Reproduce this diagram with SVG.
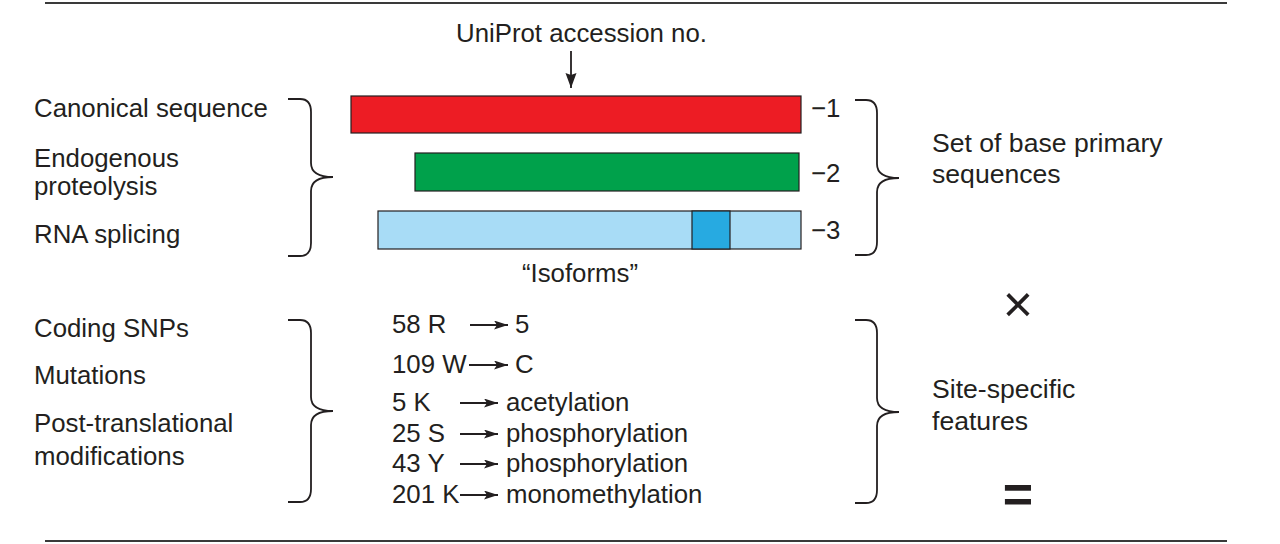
<svg xmlns="http://www.w3.org/2000/svg" width="1280" height="544" viewBox="0 0 1280 544">
<style>
  text { font-family: "Liberation Sans", Arial, Helvetica, sans-serif; font-size: 25.8px; fill: #231f20; }
  .big { font-size: 26.6px; }
  .rule { stroke: #3a3a3a; stroke-width: 2.2; fill: none; }
  .brace { stroke: #231f20; stroke-width: 1.8; fill: none; }
  .bar { stroke: #231f20; stroke-width: 1.2; }
  .arrow { stroke: #231f20; stroke-width: 1.8; fill: none; }
</style>
<defs>
  <marker id="ah" markerUnits="userSpaceOnUse" markerWidth="15" markerHeight="10" refX="14" refY="4.5" orient="auto">
    <path d="M0,0 L14,4.5 L0,9 L3,4.5 Z" fill="#231f20"/>
  </marker>
  <marker id="ahd" markerUnits="userSpaceOnUse" markerWidth="16" markerHeight="12" refX="15" refY="6" orient="auto">
    <path d="M0,0.5 L15,6 L0,11.5 L2,6 Z" fill="#231f20"/>
  </marker>
</defs>
<rect width="1280" height="544" fill="#ffffff"/>

<g id="rules">
  <line class="rule" x1="45" y1="3" x2="1227" y2="3"/>
  <line class="rule" x1="45" y1="541" x2="1227" y2="541"/>
</g>

<g id="uniprot-label">
  <text x="456" y="42">UniProt accession no.</text>
</g>

<g id="isoform-1">
  <rect class="bar" x="351" y="96" width="450" height="37" fill="#ed1c24"/>
  <text x="811" y="117">−1</text>
</g>
<g id="isoform-2">
  <rect class="bar" x="415" y="153" width="384" height="38" fill="#00a14b"/>
  <text x="811" y="182">−2</text>
</g>
<g id="isoform-3">
  <rect class="bar" x="378" y="211" width="423" height="38" fill="#a8dcf6"/>
  <rect class="bar" x="692" y="211" width="38" height="38" fill="#27aae1"/>
  <text x="811" y="239">−3</text>
</g>
<g id="isoforms-label">
  <text x="580" y="282" text-anchor="middle">“Isoforms”</text>
</g>

<g id="sources-top">
  <text x="34" y="117">Canonical sequence</text>
  <text x="34" y="167">Endogenous</text>
  <text x="34" y="195">proteolysis</text>
  <text x="34" y="243">RNA splicing</text>
  <path class="brace" d="M288,99 H300 Q311,99 311,112 V163 Q311,177 333,177 Q311,177 311,191 V243 Q311,256 300,256 H288"/>
</g>

<g id="base-set">
  <path class="brace" d="M855,100 H866 Q877,100 877,113 V164 Q877,178 899,178 Q877,178 877,192 V242 Q877,255 866,255 H855"/>
  <text class="big" x="932" y="152">Set of base primary</text>
  <text class="big" x="932" y="183">sequences</text>
</g>

<g id="times">
  <text x="1018" y="322" text-anchor="middle" style="font-size:52px">×</text>
</g>

<g id="sources-bottom">
  <text x="34" y="337">Coding SNPs</text>
  <text x="34" y="384">Mutations</text>
  <text x="34" y="432">Post-translational</text>
  <text x="34" y="465">modifications</text>
  <path class="brace" d="M288,320 H300 Q311,320 311,333 V397 Q311,411 333,411 Q311,411 311,425 V489 Q311,502 300,502 H288"/>
</g>

<g id="features">
  <text x="392" y="333">58 R</text>
  <text x="515" y="333">5</text>
  <text x="392" y="373">109 W</text>
  <text x="515" y="373">C</text>
  <text x="392" y="411">5 K</text>
  <text x="506" y="411">acetylation</text>
  <text x="392" y="442">25 S</text>
  <text x="506" y="442">phosphorylation</text>
  <text x="392" y="472">43 Y</text>
  <text x="506" y="472">phosphorylation</text>
  <text x="392" y="503">201 K</text>
  <text x="506" y="503">monomethylation</text>
</g>

<g id="site-specific">
  <path class="brace" d="M855,320 H866 Q877,320 877,333 V398 Q877,412 899,412 Q877,412 877,426 V490 Q877,503 866,503 H855"/>
  <text class="big" x="932" y="398">Site-specific</text>
  <text class="big" x="932" y="430">features</text>
</g>

<g id="equals">
  <text x="1018" y="512" text-anchor="middle" style="font-size:52px;font-weight:bold">=</text>
</g>

<g id="connectors">
  <line class="arrow" x1="571" y1="51" x2="571" y2="88" marker-end="url(#ahd)"/>
  <line class="arrow" x1="470" y1="325" x2="508" y2="325" marker-end="url(#ah)"/>
  <line class="arrow" x1="469" y1="365" x2="508" y2="365" marker-end="url(#ah)"/>
  <line class="arrow" x1="460" y1="403" x2="498" y2="403" marker-end="url(#ah)"/>
  <line class="arrow" x1="460" y1="434" x2="498" y2="434" marker-end="url(#ah)"/>
  <line class="arrow" x1="460" y1="464" x2="498" y2="464" marker-end="url(#ah)"/>
  <line class="arrow" x1="460" y1="495" x2="498" y2="495" marker-end="url(#ah)"/>
</g>
</svg>
